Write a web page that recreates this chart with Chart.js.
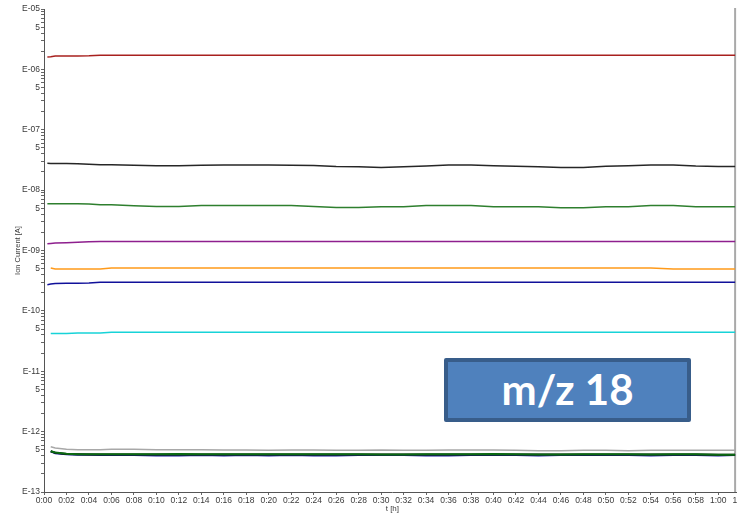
<!DOCTYPE html>
<html>
<head>
<meta charset='utf-8' />
<title>m/z 18</title>
<script src="https://cdn.jsdelivr.net/npm/chart.js"></script>
<style>
body { margin:0; padding:0; overflow:hidden; background:#ffffff; }
#wrap {
  position: relative;
  width: 750px;
  height: 515px;
}
#mzLabel {
  position: absolute;
  left: 444px;
  top: 358px;
  width: 247px;
  height: 64px;
  box-sizing: border-box;
  background: #4f81bd;
  border: 4px solid #385d8a;
  border-radius: 2px;
  color: #ffffff;
  font: bold 42px Lato, 'Open Sans', sans-serif;
  text-align: center;
  line-height: 55px;
}
</style>
</head>
<body>
<div id="wrap">
  <canvas id="ionChart" width="750" height="515"></canvas>
  <div id="mzLabel">m/z 18</div>
</div>

<script>

// time in minutes
const times = [0.3, 0.6, 1, 2, 3, 4, 5, 6, 8, 10, 12, 14, 16, 18, 20, 22, 24, 26, 28, 30,
  32, 34, 36, 38, 40, 42, 44, 46, 48, 50, 52, 54, 56, 58, 60, 61.5];

const redIon = [1.61e-6, 1.62e-6, 1.67e-6, 1.67e-6, 1.67e-6, 1.68e-6, 1.71e-6, 1.71e-6, 1.71e-6, 1.71e-6,
  1.71e-6, 1.71e-6, 1.71e-6, 1.71e-6, 1.72e-6, 1.72e-6, 1.72e-6, 1.72e-6, 1.72e-6, 1.72e-6,
  1.72e-6, 1.72e-6, 1.72e-6, 1.72e-6, 1.72e-6, 1.72e-6, 1.72e-6, 1.72e-6, 1.72e-6, 1.72e-6,
  1.72e-6, 1.72e-6, 1.72e-6, 1.72e-6, 1.72e-6, 1.72e-6];

const blackIon = [2.78e-8, 2.76e-8, 2.75e-8, 2.75e-8, 2.74e-8, 2.68e-8, 2.63e-8, 2.63e-8, 2.58e-8, 2.54e-8,
  2.54e-8, 2.58e-8, 2.60e-8, 2.60e-8, 2.60e-8, 2.58e-8, 2.56e-8, 2.47e-8, 2.45e-8, 2.38e-8,
  2.45e-8, 2.52e-8, 2.60e-8, 2.60e-8, 2.54e-8, 2.49e-8, 2.45e-8, 2.38e-8, 2.38e-8, 2.48e-8,
  2.54e-8, 2.60e-8, 2.60e-8, 2.50e-8, 2.47e-8, 2.47e-8];

const greenIon = [5.93e-9, 5.93e-9, 5.93e-9, 5.93e-9, 5.93e-9, 5.90e-9, 5.71e-9, 5.71e-9, 5.50e-9, 5.35e-9,
  5.35e-9, 5.56e-9, 5.56e-9, 5.56e-9, 5.56e-9, 5.56e-9, 5.35e-9, 5.15e-9, 5.15e-9, 5.29e-9,
  5.29e-9, 5.56e-9, 5.56e-9, 5.56e-9, 5.29e-9, 5.29e-9, 5.29e-9, 5.10e-9, 5.10e-9, 5.29e-9,
  5.29e-9, 5.56e-9, 5.56e-9, 5.29e-9, 5.29e-9, 5.29e-9];

const purpleIon = [1.29e-9, 1.31e-9, 1.33e-9, 1.35e-9, 1.37e-9, 1.40e-9, 1.41e-9, 1.41e-9, 1.41e-9, 1.41e-9,
  1.41e-9, 1.41e-9, 1.41e-9, 1.41e-9, 1.41e-9, 1.41e-9, 1.41e-9, 1.41e-9, 1.41e-9, 1.41e-9,
  1.41e-9, 1.41e-9, 1.41e-9, 1.41e-9, 1.41e-9, 1.41e-9, 1.41e-9, 1.41e-9, 1.41e-9, 1.41e-9,
  1.41e-9, 1.41e-9, 1.41e-9, 1.41e-9, 1.41e-9, 1.41e-9];

const orangeIon = [null, 5.15e-10, 4.96e-10, 4.96e-10, 4.96e-10, 4.96e-10, 4.96e-10, 5.15e-10, 5.15e-10, 5.15e-10,
  5.15e-10, 5.15e-10, 5.15e-10, 5.15e-10, 5.15e-10, 5.15e-10, 5.15e-10, 5.15e-10, 5.15e-10, 5.15e-10,
  5.15e-10, 5.15e-10, 5.15e-10, 5.15e-10, 5.15e-10, 5.15e-10, 5.15e-10, 5.15e-10, 5.15e-10, 5.15e-10,
  5.15e-10, 5.15e-10, 4.96e-10, 4.96e-10, 4.96e-10, 4.96e-10];

const navyIon = [2.72e-10, 2.78e-10, 2.85e-10, 2.87e-10, 2.87e-10, 2.90e-10, 2.98e-10, 2.98e-10, 2.98e-10, 2.98e-10,
  2.98e-10, 2.98e-10, 2.98e-10, 2.98e-10, 2.98e-10, 2.98e-10, 2.98e-10, 2.98e-10, 2.98e-10, 2.98e-10,
  2.98e-10, 2.98e-10, 2.98e-10, 2.98e-10, 2.98e-10, 2.98e-10, 2.98e-10, 2.98e-10, 2.98e-10, 2.98e-10,
  2.98e-10, 2.98e-10, 2.98e-10, 2.98e-10, 2.98e-10, 2.98e-10];

const cyanIon = [null, 4.22e-11, 4.22e-11, 4.22e-11, 4.30e-11, 4.30e-11, 4.30e-11, 4.42e-11, 4.42e-11, 4.42e-11,
  4.42e-11, 4.42e-11, 4.42e-11, 4.42e-11, 4.42e-11, 4.42e-11, 4.42e-11, 4.42e-11, 4.42e-11, 4.42e-11,
  4.42e-11, 4.42e-11, 4.42e-11, 4.42e-11, 4.42e-11, 4.42e-11, 4.42e-11, 4.42e-11, 4.42e-11, 4.42e-11,
  4.42e-11, 4.42e-11, 4.42e-11, 4.42e-11, 4.42e-11, 4.42e-11];

const greyIon = [null, 5.62e-13, 5.35e-13, 5.10e-13, 5.02e-13, 5.02e-13, 5.02e-13, 5.10e-13, 5.10e-13, 5.02e-13,
  5.02e-13, 5.02e-13, 4.98e-13, 4.98e-13, 4.93e-13, 4.98e-13, 4.98e-13, 4.93e-13, 4.93e-13, 4.98e-13,
  4.93e-13, 4.93e-13, 4.98e-13, 4.98e-13, 4.98e-13, 4.93e-13, 4.84e-13, 4.84e-13, 4.93e-13, 4.93e-13,
  4.84e-13, 4.93e-13, 4.93e-13, 4.93e-13, 4.93e-13, 4.93e-13];

const darkGreenIon = [null, 4.74e-13, 4.50e-13, 4.30e-13, 4.23e-13, 4.23e-13, 4.20e-13, 4.20e-13, 4.20e-13, 4.20e-13,
  4.28e-13, 4.20e-13, 4.20e-13, 4.20e-13, 4.20e-13, 4.20e-13, 4.20e-13, 4.20e-13, 4.20e-13, 4.18e-13,
  4.18e-13, 4.20e-13, 4.22e-13, 4.22e-13, 4.26e-13, 4.20e-13, 4.18e-13, 4.18e-13, 4.20e-13, 4.22e-13,
  4.20e-13, 4.18e-13, 4.20e-13, 4.20e-13, 4.15e-13, 4.15e-13];

const darkBlackIon = [null, 4.72e-13, 4.45e-13, 4.25e-13, 4.20e-13, 4.18e-13, 4.16e-13, 4.16e-13, 4.16e-13, 4.16e-13,
  4.16e-13, 4.16e-13, 4.16e-13, 4.16e-13, 4.16e-13, 4.16e-13, 4.16e-13, 4.16e-13, 4.16e-13, 4.16e-13,
  4.16e-13, 4.16e-13, 4.16e-13, 4.16e-13, 4.16e-13, 4.16e-13, 4.16e-13, 4.16e-13, 4.16e-13, 4.16e-13,
  4.16e-13, 4.16e-13, 4.16e-13, 4.16e-13, 4.14e-13, 4.14e-13];

const darkNavyIon = [null, 4.70e-13, 4.40e-13, 4.20e-13, 4.15e-13, 4.15e-13, 4.12e-13, 4.12e-13, 4.12e-13, 4.02e-13,
  4.02e-13, 4.12e-13, 4.02e-13, 4.12e-13, 4.02e-13, 4.12e-13, 4.02e-13, 4.02e-13, 4.12e-13, 4.12e-13,
  4.12e-13, 4.02e-13, 4.02e-13, 4.12e-13, 4.12e-13, 4.12e-13, 4.02e-13, 4.12e-13, 4.12e-13, 4.12e-13,
  4.12e-13, 4.02e-13, 4.12e-13, 4.12e-13, 4.02e-13, 4.10e-13];

// x tick values (minutes) and y axis range
const xTicks = [0, 2, 4, 6, 8, 10, 12, 14, 16, 18, 20, 22, 24, 26, 28, 30, 32, 34, 36, 38, 40,
  42, 44, 46, 48, 50, 52, 54, 56, 58, 60, 62];
const yDecades = [-13, -12, -11, -10, -9, -8, -7, -6, -5];
const cursorTime = 61.5;

/*************************************************/
/* datasets                                      */
/*************************************************/

const toPoints = (vals) => times.map((t, i) => ({ x: t, y: vals[i] }));

const series = [
  { data: darkGreenIon, color: '#0b6a12', width: 2 },
  { data: darkBlackIon, color: '#101010', width: 2 },
  { data: darkNavyIon, color: '#1c1ca0', width: 2 },
  { data: greyIon, color: '#a8a8a8', width: 1.5 },
  { data: cyanIon, color: '#17d3d8', width: 1.5 },
  { data: navyIon, color: '#10109a', width: 1.5 },
  { data: orangeIon, color: '#ff9a1a', width: 1.5 },
  { data: purpleIon, color: '#8e1f8e', width: 1.5 },
  { data: greenIon, color: '#2e7f2e', width: 1.5 },
  { data: blackIon, color: '#262626', width: 1.5 },
  { data: redIon, color: '#a8201e', width: 1.5 }
];

const datasets = series.map(s => ({
  data: toPoints(s.data),
  borderColor: s.color,
  borderWidth: s.width,
  pointRadius: 0,
  tension: 0,
  spanGaps: false
}));

const tickFont = { family: "'Liberation Sans', Arial, sans-serif", size: 8.5 };

const fmtTime = (v) => Math.floor(v / 60) + ':' + String(v % 60).padStart(2, '0');

const fmtIon = (v) => {
  const e = Math.floor(Math.log10(v) + 1e-9);
  const m = Math.round(v / Math.pow(10, e));
  if (m === 1) return 'E-' + String(-e).padStart(2, '0');
  if (m === 5) return '5';
  return '';
};

// grey vertical line at the current time
const cursorLine = {
  id: 'cursorLine',
  beforeDatasetsDraw(chart) {
    const { ctx, chartArea, scales } = chart;
    const px = scales.x.getPixelForValue(cursorTime);
    ctx.save();
    ctx.strokeStyle = '#a9a9a9';
    ctx.lineWidth = 2;
    ctx.beginPath();
    ctx.moveTo(px, chartArea.top - 1);
    ctx.lineTo(px, chartArea.bottom);
    ctx.stroke();
    ctx.restore();
  }
};

new Chart(document.getElementById('ionChart'), {
  type: 'line',
  data: { datasets: datasets },
  options: {
    responsive: false,
    animation: false,
    layout: { padding: { top: 9, left: 0, right: 0, bottom: 0 } },
    plugins: {
      legend: { display: false },
      tooltip: { enabled: false }
    },
    scales: {
      x: {
        type: 'linear',
        min: 0,
        max: 62,
        afterBuildTicks: (scale) => { scale.ticks = xTicks.map(v => ({ value: v })); },
        afterFit: (scale) => { scale.height = 23; },
        ticks: {
          autoSkip: false,
          maxRotation: 0,
          padding: 1,
          color: '#3a3a3a',
          font: tickFont,
          callback: (v) => fmtTime(v)
        },
        grid: { drawOnChartArea: false, tickLength: 3, color: '#666666' },
        border: { color: '#555555', width: 1 },
        title: {
          display: true,
          text: 't [h]',
          color: '#3a3a3a',
          font: { family: "'Liberation Sans', Arial, sans-serif", size: 8 },
          padding: { top: 0, bottom: 1 }
        }
      },
      y: {
        type: 'logarithmic',
        min: 1e-13,
        max: 1e-5,
        afterBuildTicks: (scale) => {
          const t = [];
          yDecades.forEach(e => {
            const top = e === -5 ? 1 : 9;
            for (let m = 1; m <= top; m++) t.push({ value: m * Math.pow(10, e) });
          });
          scale.ticks = t;
        },
        afterFit: (scale) => { scale.width = 44; },
        ticks: {
          autoSkip: false,
          padding: 1,
          color: '#3a3a3a',
          font: tickFont,
          callback: (v) => fmtIon(v)
        },
        grid: { drawOnChartArea: false, tickLength: 3, color: '#666666' },
        border: { color: '#555555', width: 1 },
        title: {
          display: true,
          text: 'Ion Current [A]',
          color: '#3a3a3a',
          font: { family: "'Liberation Sans', Arial, sans-serif", size: 7.5 },
          padding: { top: 13, bottom: 0 }
        }
      }
    }
  },
  plugins: [cursorLine]
});

</script>
</body>
</html>
